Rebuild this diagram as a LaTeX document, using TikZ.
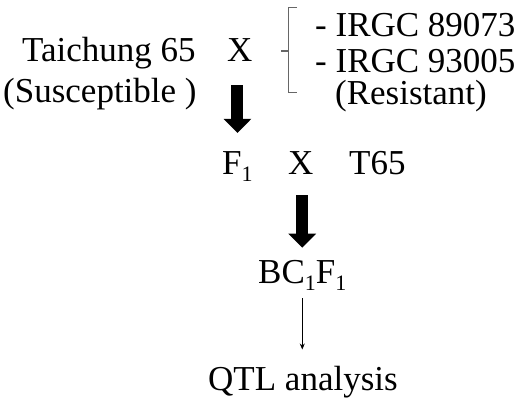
\documentclass[tikz,border=0pt]{standalone}
\usepackage{fontspec}
\setmainfont{Liberation Serif}
\usetikzlibrary{arrows.meta,calc}
\newcommand{\subone}{\raisebox{-7pt}{\fontsize{22}{22}\selectfont 1}}
\tikzset{
  lbl/.style={anchor=base west, inner sep=0pt, font=\fontsize{35}{40}\selectfont, text=black},
  bigarrow/.style={line width=12pt, -{Triangle[width=27pt,length=14pt]}, black},
  thinarrow/.style={line width=0.8pt, -{Stealth[width=5pt,length=6pt]}, black},
  bracket/.style={draw=black!60, line width=1pt, line join=miter}
}
\begin{document}
\begin{tikzpicture}[x=1pt,y=-1pt]
\useasboundingbox (0,0) rectangle (529,403);
\node[lbl] (taichung) at (22,62) {Taichung 65};
\node[lbl] (x1) at (227,62) {X};
\node[lbl] (irgc1) at (315,37) {- IRGC 89073};
\node[lbl] (irgc2) at (315,73) {- IRGC 93005};
\node[lbl] (resist) at (335,105) {(Resistant)};
\node[lbl] (suscept) at (3,103) {(Susceptible )};
\node[lbl] (f1) at (222,175) {F\subone};
\node[lbl] (x2) at (288,175) {X};
\node[lbl] (t65) at (349,175) {T65};
\node[lbl] (bc) at (258,283) {BC\subone F\subone};
\node[lbl] (qtl) at (208,390) {QTL analysis};
% bracket
\draw[bracket] (297,8) -- (288,8) -- (288,93) -- (297,93);
\draw[bracket, line width=1.6pt] (288,51) -- (281,51);
% arrows
\draw[bigarrow] ($(x1.south -| f1.north)+(0,23)$) -- ($(f1.north)+(0,-19)$);
\draw[bigarrow] ($(x2.south -| bc.north)+(0,20)$) -- ($(bc.north)+(0,-12)$);
\draw[thinarrow] ($(bc.south)+(0,8)$) -- ($(qtl.north -| bc.south)+(0,-16)$);
\end{tikzpicture}
\end{document}
